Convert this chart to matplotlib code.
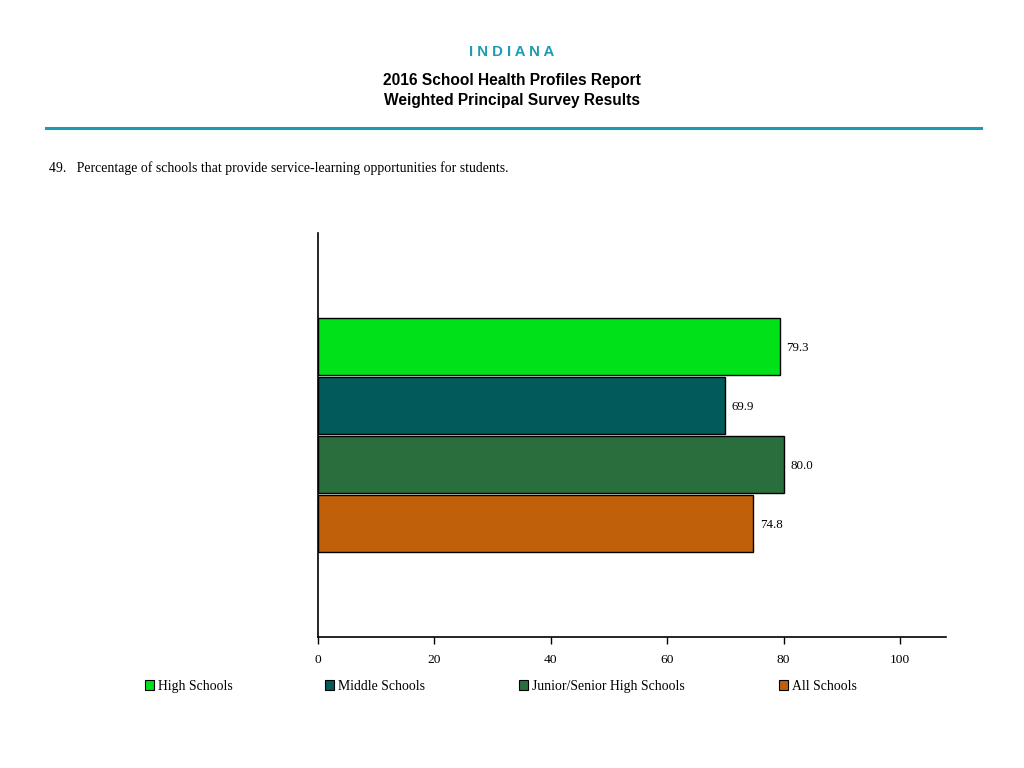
import matplotlib
matplotlib.use("Agg")
import matplotlib.pyplot as plt
from matplotlib.patches import Rectangle
from matplotlib.lines import Line2D

categories = ["High Schools", "Middle Schools", "Junior/Senior High Schools", "All Schools"]
values = [79.3, 69.9, 80.0, 74.8]
colors = ["#00E11A", "#025A5A", "#2B6E3E", "#C0600B"]
xticks = [0, 20, 40, 60, 80, 100]

state = "I N D I A N A"
title1 = "2016 School Health Profiles Report"
title2 = "Weighted Principal Survey Results"
question = "49.   Percentage of schools that provide service-learning opportunities for students."

W, H = 1024, 768
fig = plt.figure(figsize=(W / 100, H / 100), dpi=100)
fig.patch.set_facecolor("white")

serif = ["Liberation Serif", "DejaVu Serif"]
sans = ["Liberation Sans", "DejaVu Sans"]

# header
fig.text(0.5, 1 - 50 / H, state, ha="center", va="center_baseline", color="#1A9DB0",
         fontsize=10.7, fontweight="bold", family=sans)
fig.text(0.5, 1 - 78.5 / H, title1, ha="center", va="center_baseline", color="black",
         fontsize=11.2, fontweight="bold", family=sans)
fig.text(0.5, 1 - 99.5 / H, title2, ha="center", va="center_baseline", color="black",
         fontsize=11.2, fontweight="bold", family=sans)
fig.add_artist(Line2D([46 / W, 981 / W], [1 - 128 / H, 1 - 128 / H],
                      color="#1A9DB0", linewidth=2.2))
fig.text(49 / W, 1 - 167 / H, question, ha="left", va="center_baseline", color="black",
         fontsize=9.9, family=serif)

# axes area
left, right, top, bottom = 318, 946, 233, 637
ax = fig.add_axes([left / W, 1 - bottom / H, (right - left) / W, (bottom - top) / H])
y = list(range(len(values)))
ax.barh(y, values, height=0.966, color=colors, edgecolor="black", linewidth=1.0)
for yi, v in zip(y, values):
    ax.text(v + 1.1, yi, f"{v:.1f}", va="center_baseline", ha="left", fontsize=9.3, family=serif)

ax.set_xlim(0, (right - left) / 5.82)
ax.set_ylim(4.92, -1.92)
ax.set_xticks(xticks)
ax.set_xticklabels([str(t) for t in xticks], family=serif, fontsize=9.7)
ax.set_yticks([])
ax.tick_params(axis="x", length=5, width=1, pad=7)
for s in ["top", "right"]:
    ax.spines[s].set_visible(False)
ax.spines["left"].set_linewidth(1.2)
ax.spines["bottom"].set_linewidth(1.2)
ax.set_facecolor("white")

# legend
leg_x = [150, 330, 524, 784]
leg_y = 685
for lx, name, c in zip(leg_x, categories, colors):
    fig.add_artist(Rectangle(((lx - 5) / W, 1 - (leg_y + 5) / H), 9 / W, 10 / H,
                             facecolor=c, edgecolor="black", linewidth=0.8))
    fig.text((lx + 8) / W, 1 - leg_y / H, name, ha="left", va="center_baseline",
             fontsize=9.9, family=serif)

fig.savefig("out.png", dpi=100, facecolor="white")
